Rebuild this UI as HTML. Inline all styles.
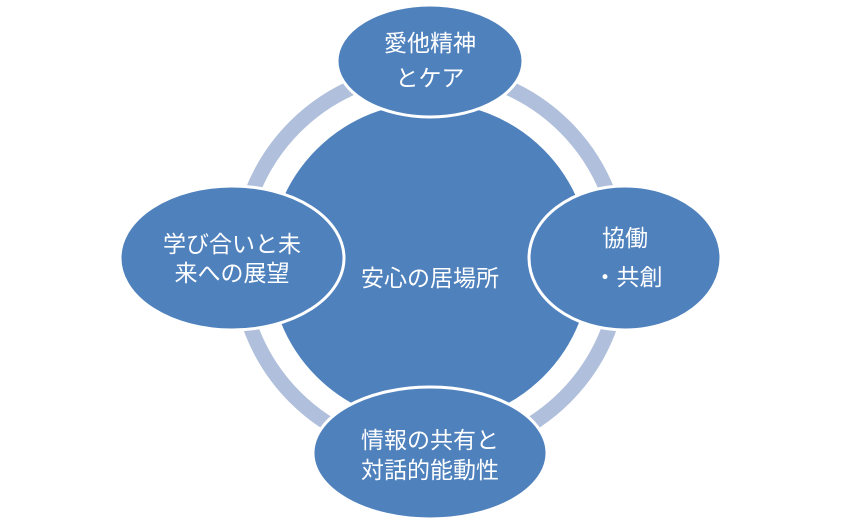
<!DOCTYPE html>
<html><head><meta charset="utf-8"><style>
html,body{margin:0;padding:0;background:#fff;}
svg{display:block;}
text{font-family:"Liberation Serif","Noto Sans CJK JP",sans-serif;font-size:23px;fill:#fff;text-anchor:middle;}
</style></head><body>
<svg width="844" height="526" viewBox="0 0 844 526">
<circle cx="430" cy="262" r="191" fill="none" stroke="#b0bfdb" stroke-width="15"/>
<circle cx="430" cy="263" r="162" fill="#4f81bd" stroke="#fff" stroke-width="3"/>
<g fill="#4f81bd" stroke="#fff" stroke-width="3">
<ellipse cx="430" cy="61" rx="93" ry="56"/>
<ellipse cx="625" cy="258" rx="96" ry="72"/>
<ellipse cx="232" cy="258" rx="112" ry="72"/>
<ellipse cx="430" cy="453" rx="117" ry="66"/>
</g>
<text x="430" y="51">愛他精神</text>
<text x="430" y="86">とケア</text>
<text x="625" y="246">協働</text>
<text x="628" y="285">・共創</text>
<text x="232" y="252">学び合いと未</text>
<text x="232" y="281">来への展望</text>
<text x="430" y="286">安心の居場所</text>
<text x="430" y="448">情報の共有と</text>
<text x="430" y="478">対話的能動性</text>
</svg>
</body></html>
